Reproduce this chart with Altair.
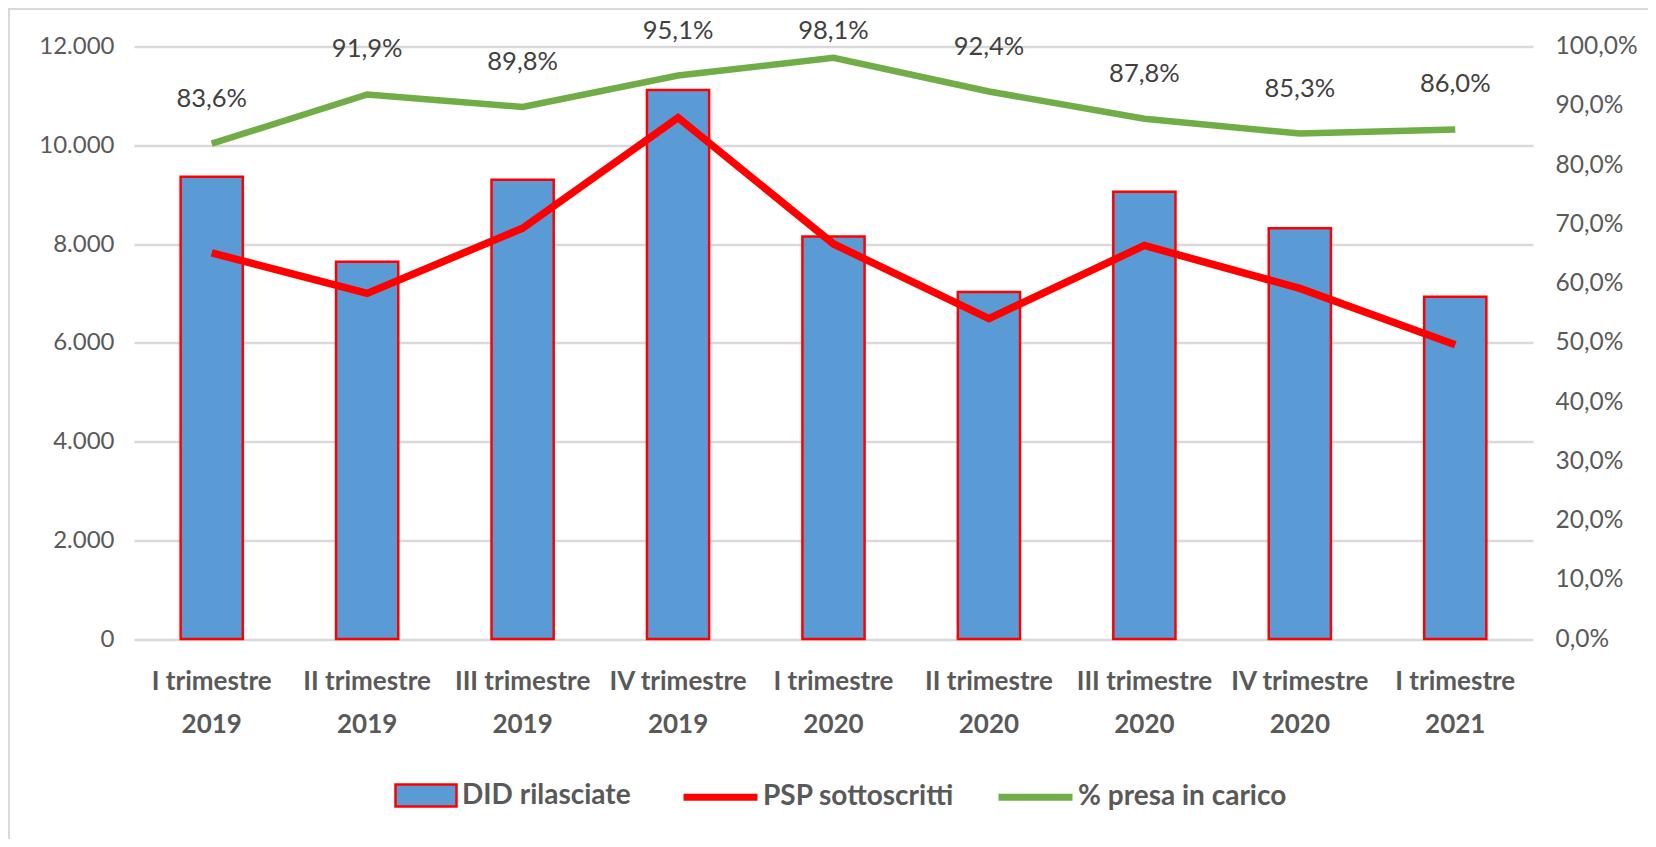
import altair as alt
import pandas as pd

# ---- data ----
trimestri = ["I trimestre", "II trimestre", "III trimestre", "IV trimestre",
             "I trimestre", "II trimestre", "III trimestre", "IV trimestre",
             "I trimestre"]
anni = ["2019", "2019", "2019", "2019", "2020", "2020", "2020", "2020", "2021"]
did_rilasciate = [9360, 7640, 9300, 11120, 8150, 7030, 9060, 8320, 6930]
psp_sottoscritti = [7820, 7000, 8320, 10560, 8000, 6490, 7970, 7100, 5960]
presa_in_carico = [83.6, 91.9, 89.8, 95.1, 98.1, 92.4, 87.8, 85.3, 86.0]

left_ticks = [0, 2000, 4000, 6000, 8000, 10000, 12000]
right_ticks = [0, 10, 20, 30, 40, 50, 60, 70, 80, 90, 100]

cats = [f"{t} {a}" for t, a in zip(trimestri, anni)]
df = pd.DataFrame({
    "cat": cats,
    "did": did_rilasciate,
    "psp": psp_sottoscritti,
    "pct": presa_in_carico,
})

F = "Lato, Roboto, sans-serif"
GRAY = "#595959"
BLUE = "#5B9BD5"
RED = "#FF0000"
GREEN = "#70AD47"

W, H = 1399, 592.5

X = alt.X(
    "cat:N", sort=cats, title=None,
    scale=alt.Scale(paddingInner=0.6, paddingOuter=0.3),
    axis=alt.Axis(
        labelExpr="[substring(datum.value, 0, length(datum.value) - 5), substring(datum.value, length(datum.value) - 4)]",
        labelAngle=0, labelFont=F, labelFontSize=26, labelFontWeight="bold",
        labelColor=GRAY, labelLineHeight=43, labelPadding=29, labelBaseline="top",
        ticks=False, domain=False, grid=False, labelLimit=300,
    ),
)

base = alt.Chart(df)

bars = base.mark_bar(stroke=RED, strokeWidth=2.5).encode(
    x=X,
    y=alt.Y(
        "did:Q", title=None,
        scale=alt.Scale(domain=[0, 12000], nice=False),
        axis=alt.Axis(
            values=left_ticks, labelExpr="replace(format(datum.value, ',.0f'), ',', '.')",
            labelFont=F, labelFontSize=24, labelColor=GRAY, labelPadding=20,
            ticks=False, domain=False, grid=True, gridColor="#D9D9D9", gridWidth=2.5,
        ),
    ),
    fill=alt.Fill(
        "s_bar:N",
        scale=alt.Scale(domain=["DID rilasciate"], range=[BLUE]),
        legend=alt.Legend(
            title=None, orient="none", legendX=260, legendY=717, padding=0,
            symbolType="M-1,-0.36H1V0.36H-1Z", symbolSize=3721,
            symbolStrokeColor=RED, symbolStrokeWidth=2.5, symbolOpacity=1,
            labelFont=F, labelFontSize=28, labelFontWeight="bold",
            labelColor=GRAY, labelOffset=4, labelLimit=400,
        ),
    ),
).transform_calculate(s_bar="'DID rilasciate'")

line_legend = alt.Legend(
    title=None, orient="none", legendX=546, legendY=710, padding=0,
    direction="horizontal", symbolType="stroke", symbolSize=5476,
    symbolStrokeWidth=7, labelFont=F, labelFontSize=28, labelFontWeight="bold",
    labelColor=GRAY, labelOffset=2, columnPadding=30, labelLimit=400,
)
line_scale = alt.Scale(domain=["PSP sottoscritti", "% presa in carico"], range=[RED, GREEN])

red_line = base.mark_line(strokeWidth=7.5).encode(
    x=X,
    y=alt.Y("psp:Q", title=None, scale=alt.Scale(domain=[0, 12000], nice=False)),
    stroke=alt.Stroke("serie:N", scale=line_scale, legend=line_legend),
).transform_calculate(serie="'PSP sottoscritti'")

green_line = base.mark_line(strokeWidth=6.5).encode(
    x=X,
    y=alt.Y(
        "pct:Q", title=None,
        scale=alt.Scale(domain=[0, 100], nice=False),
        axis=alt.Axis(
            orient="right", values=right_ticks,
            labelExpr="replace(format(datum.value, '.1f'), '.', ',') + '%'",
            labelFont=F, labelFontSize=24.5, labelColor=GRAY, labelPadding=22,
            ticks=False, domain=False, grid=False,
        ),
    ),
    stroke=alt.Stroke("serie:N", scale=line_scale, legend=line_legend),
).transform_calculate(serie="'% presa in carico'")

labels = base.mark_text(font=F, fontSize=25.5, color="#404040", baseline="middle").encode(
    x=X,
    y=alt.Y("lab_y:Q", scale=alt.Scale(domain=[0, 100], nice=False)),
    text="lab:N",
).transform_calculate(
    lab="replace(format(datum.pct, '.1f'), '.', ',') + '%'",
    lab_y="min(datum.pct + 7.6, 102.6)",
)

frame = alt.Chart(pd.DataFrame({"k": [0]})).mark_rect(
    fillOpacity=0, stroke="#D9D9D9", strokeWidth=2
).encode(
    x=alt.value(-125), x2=alt.value(W + 200),
    y=alt.value(-37.5), y2=alt.value(H + 300),
)

left = alt.layer(bars, red_line)
right = alt.layer(green_line, labels)

chart = alt.layer(frame, left, right).resolve_scale(y="independent").properties(
    width=W, height=H,
    padding={"left": 126, "top": 38.5, "right": 115, "bottom": 200},
    autosize=alt.AutoSizeParams(type="none"),
).configure_view(strokeWidth=0)

chart.save("out.html", embed_options={"renderer": "svg", "actions": False})
